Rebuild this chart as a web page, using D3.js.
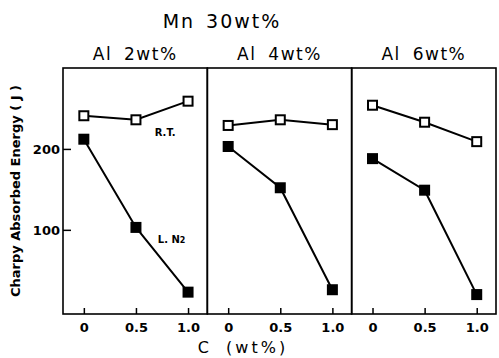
<!DOCTYPE html>
<meta charset="utf-8">
<style>
    body { margin: 0; background: #fff; }
    text { font-family: "DejaVu Sans", sans-serif; fill: #000; }
    .tick text { font-weight: bold; font-size: 13px; }
</style>
<body>
<script src="https://cdn.jsdelivr.net/npm/d3@7"></script>
<script>
    var width = 499
    var height = 358

    // data
    var panels = ['Al 2wt%', 'Al 4wt%', 'Al 6wt%']
    var carbon = [0, 0.5, 1.0]
    var rtEnergy = [
        [241, 236, 259],
        [229, 236, 230],
        [254, 233, 209]
    ]
    var ln2Energy = [
        [212, 103, 23],
        [203, 152, 26],
        [188, 149, 20]
    ]
    var xTicks = [0, 0.5, 1.0]
    var yTicks = [100, 200]

    var plotLeft = 63, plotRight = 496, plotTop = 68, plotBottom = 314

    var svg = d3.select('body').append('svg')
        .attr('width', width)
        .attr('height', height)

    var panelX = d3.scaleBand().domain(panels).range([plotLeft, plotRight]).padding(0)
    var pw = panelX.bandwidth()

    var x = d3.scaleLinear().domain([-0.2, 1.185]).range([0, pw])
    var y = d3.scaleLinear().domain([-4, 300]).range([plotBottom, plotTop])

    var line = d3.line()
        .x(function (d) { return x(d[0]) })
        .y(function (d) { return y(d[1]) })

    panels.forEach(function (name, i) {
        var g = svg.append('g').attr('transform', 'translate(' + panelX(name) + ',0)')

        g.append('rect')
            .attr('x', 0).attr('y', plotTop)
            .attr('width', pw).attr('height', plotBottom - plotTop)
            .attr('fill', 'none').attr('stroke', '#000').attr('stroke-width', 1.6)

        var xa = g.append('g').attr('transform', 'translate(0,' + plotBottom + ')')
            .call(d3.axisBottom(x).tickValues(xTicks)
                .tickFormat(function (d) { return d === 0 ? '0' : d3.format('.1f')(d) })
                .tickSizeInner(-6).tickSizeOuter(0).tickPadding(9))
        xa.select('.domain').remove()
        xa.selectAll('.tick line').attr('stroke-width', 1.5)

        g.append('text')
            .attr('x', pw / 2).attr('y', 60)
            .attr('text-anchor', 'middle')
            .style('font-size', '17px')
            .style('letter-spacing', '1.5px')
            .style('word-spacing', '5px')
            .text(name)

        var series = [
            { vals: rtEnergy[i], fill: '#fff' },
            { vals: ln2Energy[i], fill: '#000' }
        ]
        series.forEach(function (s) {
            var pts = carbon.map(function (c, j) { return [c, s.vals[j]] })
            g.append('path')
                .attr('d', line(pts))
                .attr('fill', 'none').attr('stroke', '#000').attr('stroke-width', 2)
            g.selectAll(null).data(pts).enter().append('rect')
                .attr('x', function (d) { return x(d[0]) - 4.5 })
                .attr('y', function (d) { return y(d[1]) - 4.5 })
                .attr('width', 9).attr('height', 9)
                .attr('fill', s.fill).attr('stroke', '#000').attr('stroke-width', 2)
        })

        if (i === 0) {
            g.append('text')
                .attr('x', x(0.68)).attr('y', y(216))
                .style('font-size', '10px').style('font-weight', 'bold')
                .text('R.T.')
            var ln = g.append('text')
                .attr('x', x(0.71)).attr('y', y(84))
                .style('font-size', '10px').style('font-weight', 'bold')
                .text('L. N')
            ln.append('tspan').style('font-size', '8px').text('2')
        }
    })

    var ya = svg.append('g').attr('transform', 'translate(' + plotLeft + ',0)')
        .call(d3.axisLeft(y).tickValues(yTicks).tickSizeInner(-8).tickSizeOuter(0).tickPadding(4))
    ya.select('.domain').remove()
    ya.selectAll('.tick line').attr('stroke-width', 1.5)
    ya.selectAll('.tick text').attr('x', -3)

    svg.append('text')
        .attr('transform', 'translate(20,' + 191 + ') rotate(-90)')
        .attr('text-anchor', 'middle')
        .style('font-size', '13px').style('font-weight', 'bold')
        .text('Charpy Absorbed Energy ( J )')

    svg.append('text')
        .attr('x', 222).attr('y', 28)
        .attr('text-anchor', 'middle')
        .style('font-size', '19px')
        .style('letter-spacing', '2px')
        .style('word-spacing', '3px')
        .text('Mn 30wt%')

    svg.append('text')
        .attr('x', 243).attr('y', 353)
        .attr('text-anchor', 'middle')
        .style('font-size', '16px')
        .style('letter-spacing', '3px')
        .style('word-spacing', '6px')
        .text('C (wt%)')
</script>
</body>
